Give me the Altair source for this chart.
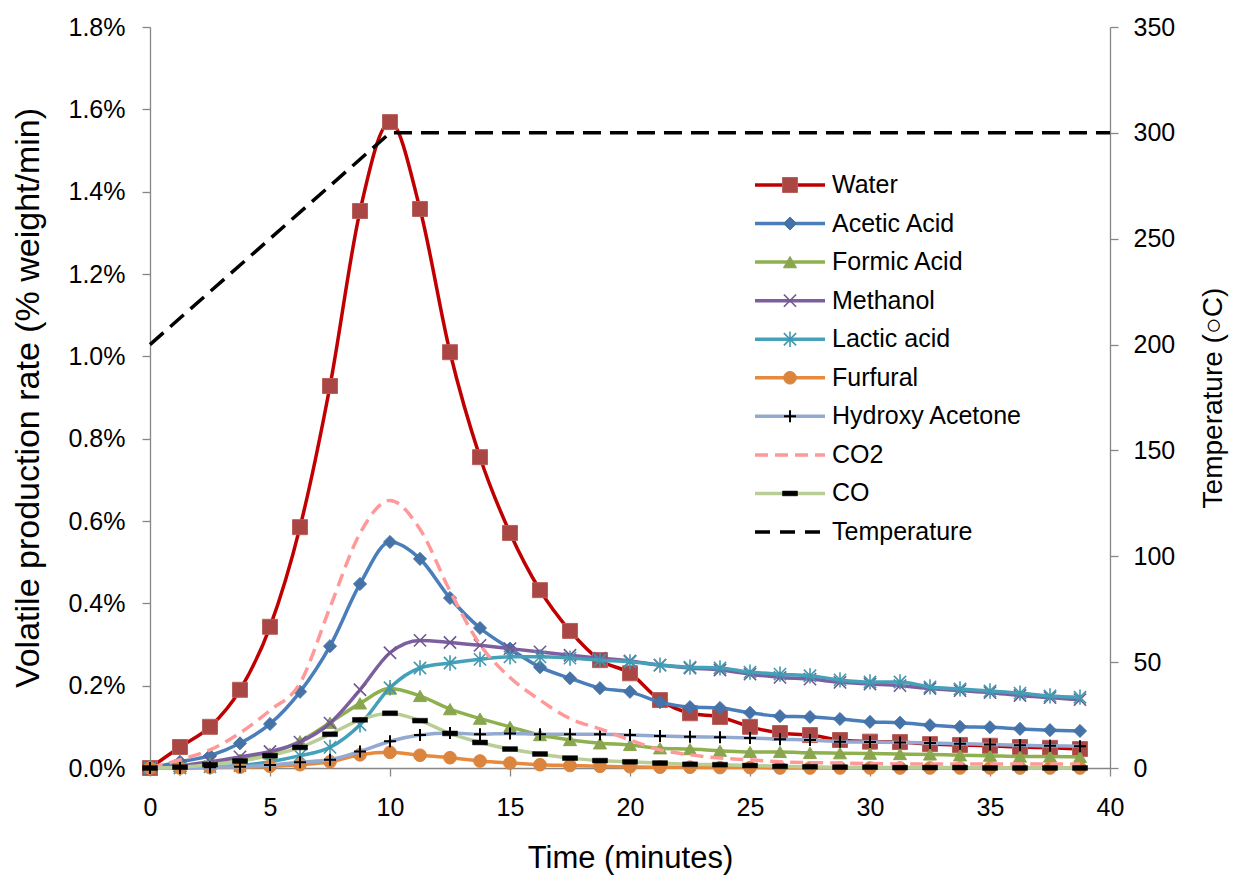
import altair as alt
import pandas as pd

# Sampling times (minutes)
time_min = [0.0, 1.25, 2.5, 3.75, 5.0, 6.25, 7.5, 8.75, 10.0, 11.25, 12.5, 13.75,
            15.0, 16.25, 17.5, 18.75, 20.0, 21.25, 22.5, 23.75, 25.0, 26.25, 27.5,
            28.75, 30.0, 31.25, 32.5, 33.75, 35.0, 36.25, 37.5, 38.75]

# Volatile production rates (% weight/min)
water = [0.0, 0.051, 0.10, 0.19, 0.343, 0.585, 0.928, 1.353, 1.569, 1.358, 1.01, 0.755,
         0.571, 0.432, 0.333, 0.262, 0.23, 0.165, 0.133, 0.124, 0.10, 0.085, 0.08,
         0.068, 0.064, 0.063, 0.058, 0.056, 0.054, 0.051, 0.049, 0.046]
acetic_acid = [0.0, 0.015, 0.03, 0.06, 0.107, 0.185, 0.296, 0.447, 0.549, 0.508, 0.413,
               0.34, 0.29, 0.245, 0.218, 0.194, 0.185, 0.16, 0.148, 0.146, 0.134, 0.126,
               0.124, 0.119, 0.112, 0.11, 0.104, 0.10, 0.099, 0.095, 0.092, 0.09]
formic_acid = [0.0, 0.004, 0.01, 0.02, 0.035, 0.065, 0.11, 0.157, 0.193, 0.175, 0.143,
               0.12, 0.10, 0.08, 0.068, 0.06, 0.056, 0.048, 0.046, 0.042, 0.039, 0.039,
               0.037, 0.036, 0.035, 0.034, 0.033, 0.031, 0.03, 0.028, 0.028, 0.027]
methanol = [0.0, 0.005, 0.015, 0.027, 0.04, 0.063, 0.109, 0.19, 0.28, 0.31, 0.305, 0.298,
            0.29, 0.282, 0.274, 0.267, 0.26, 0.25, 0.243, 0.238, 0.228, 0.22, 0.216,
            0.208, 0.204, 0.2, 0.193, 0.188, 0.183, 0.176, 0.171, 0.166]
lactic_acid = [0.0, 0.0, 0.003, 0.006, 0.015, 0.03, 0.05, 0.105, 0.195, 0.243, 0.255,
               0.264, 0.27, 0.27, 0.267, 0.262, 0.258, 0.25, 0.245, 0.243, 0.233, 0.228,
               0.224, 0.214, 0.209, 0.209, 0.197, 0.192, 0.187, 0.182, 0.175, 0.172]
furfural = [0.0, 0.0, 0.001, 0.002, 0.004, 0.008, 0.015, 0.032, 0.038, 0.031, 0.025,
            0.017, 0.012, 0.008, 0.006, 0.004, 0.003, 0.002, 0.002, 0.001, 0.001, 0.0,
            0.0, 0.0, 0.0, 0.0, 0.0, 0.0, 0.0, 0.0, 0.0, 0.0]
hydroxy_acetone = [0.0, 0.0, 0.002, 0.003, 0.007, 0.014, 0.02, 0.04, 0.065, 0.08, 0.085,
                   0.082, 0.084, 0.082, 0.082, 0.082, 0.08, 0.078, 0.076, 0.075, 0.073,
                   0.07, 0.068, 0.064, 0.063, 0.062, 0.061, 0.059, 0.057, 0.055, 0.054,
                   0.053]
co2 = [0.0, 0.02, 0.044, 0.085, 0.14, 0.206, 0.39, 0.57, 0.65, 0.58, 0.43, 0.30, 0.22,
       0.165, 0.12, 0.095, 0.068, 0.044, 0.032, 0.024, 0.02, 0.015, 0.013, 0.012, 0.011,
       0.01, 0.01, 0.01, 0.01, 0.01, 0.01, 0.01]
co = [0.0, 0.002, 0.008, 0.017, 0.03, 0.05, 0.082, 0.117, 0.133, 0.115, 0.084, 0.062,
      0.046, 0.034, 0.024, 0.018, 0.015, 0.012, 0.009, 0.008, 0.006, 0.004, 0.003, 0.002,
      0.002, 0.001, 0.001, 0.001, 0.0, 0.0, 0.0, 0.0]

# Reactor temperature (°C), secondary axis
temp_time = [0.0, 10.0, 40.0]
temp_value = [200, 300, 300]

series_names = ["Water", "Acetic Acid", "Formic Acid", "Methanol", "Lactic acid",
                "Furfural", "Hydroxy Acetone", "CO2", "CO"]
series_values = [water, acetic_acid, formic_acid, methanol, lactic_acid, furfural,
                 hydroxy_acetone, co2, co]
legend_names = series_names + ["Temperature"]

FONT = "Liberation Sans"
X_SHAPE = "M-1,-1L1,1M-1,1L1,-1"
STAR_SHAPE = "M-1,-1L1,1M-1,1L1,-1M0,-1.25L0,1.25"
PLUS_SHAPE = "M-1,0L1,0M0,-1L0,1"
BAR_SHAPE = "M-1,-0.32L1,-0.32L1,0.32L-1,0.32Z"

# line colour, dash, marker spec
styles = {
    "Water": dict(line="#C00000", dash=None,
                  marker=dict(shape="square", size=225, filled=True, fill="#AA4643",
                              stroke="#B8605C", strokeWidth=1)),
    "Acetic Acid": dict(line="#4A7EBB", dash=None,
                        marker=dict(shape="diamond", size=170, filled=True, fill="#4572A7",
                                    stroke="#4572A7", strokeWidth=1)),
    "Formic Acid": dict(line="#8EB04F", dash=None,
                        marker=dict(shape="triangle-up", size=170, filled=True,
                                    fill="#89A54E", stroke="#89A54E", strokeWidth=1)),
    "Methanol": dict(line="#7D5FA0", dash=None,
                     marker=dict(shape=X_SHAPE, size=150, filled=False, color="#71588F",
                                 strokeWidth=1.6)),
    "Lactic acid": dict(line="#45A1BA", dash=None,
                        marker=dict(shape=STAR_SHAPE, size=150, filled=False,
                                    color="#4198AF", strokeWidth=1.6)),
    "Furfural": dict(line="#E88A3E", dash=None,
                     marker=dict(shape="circle", size=160, filled=True, fill="#DB843D",
                                 stroke="#DB843D", strokeWidth=1)),
    "Hydroxy Acetone": dict(line="#93A9CF", dash=None,
                            marker=dict(shape=PLUS_SHAPE, size=144, filled=False,
                                        color="#000000", strokeWidth=2)),
    "CO2": dict(line="#FF9999", dash=[13, 7], marker=None),
    "CO": dict(line="#B9CD96", dash=None,
               marker=dict(shape=BAR_SHAPE, size=225, filled=True, fill="#000000",
                           stroke="#000000", strokeWidth=0.5)),
}

axis_common = dict(
    labelFont=FONT, labelFontSize=25, labelColor="#000000",
    titleFont=FONT, titleFontWeight="normal", titleColor="#000000",
    domainColor="#868686", tickColor="#868686", domainWidth=1.3, tickWidth=1.3,
    tickSize=8, grid=False,
)

x_scale = alt.Scale(domain=[0, 40], nice=False, zero=False)
x_axis = alt.Axis(values=[0, 5, 10, 15, 20, 25, 30, 35, 40], title="Time (minutes)",
                  labelPadding=19, labelFlush=False, titleFontSize=31, titleY=90,
                  titleBaseline="middle", **axis_common)
y_scale = alt.Scale(domain=[0, 1.8], nice=False)
y_axis = alt.Axis(values=[0, 0.2, 0.4, 0.6, 0.8, 1.0, 1.2, 1.4, 1.6, 1.8],
                  labelExpr="format(datum.value, '.1f') + '%'",
                  title="Volatile production rate (% weight/min)", orient="left",
                  labelPadding=17, titleFontSize=34, titleX=-122, titleY=370.5,
                  titleAngle=270, titleBaseline="middle", titleAnchor="middle",
                  **axis_common)
temp_scale = alt.Scale(domain=[0, 350], nice=False)
temp_axis = alt.Axis(values=[0, 50, 100, 150, 200, 250, 300, 350], orient="right",
                     title="Temperature (○C)", labelPadding=15, titleFontSize=28,
                     titleX=103, titleY=370.5, titleAngle=270, titleBaseline="middle",
                     titleAnchor="middle", **axis_common)

main_layers = []
legend_layers = []
legend_scale = alt.Scale(domain=[0, 9], range=[158, 505])

for i, (name, vals) in enumerate(zip(series_names, series_values)):
    st = styles[name]
    df = pd.DataFrame({"t": time_min, "v": vals, "series": name})
    line_kw = dict(color=st["line"], strokeWidth=3.5, interpolate="monotone")
    if st["dash"]:
        line_kw["strokeDash"] = st["dash"]
    enc = dict(x=alt.X("t:Q", scale=x_scale, axis=x_axis),
               y=alt.Y("v:Q", scale=y_scale, axis=y_axis))
    main_layers.append(alt.Chart(df).mark_line(**line_kw).encode(**enc))
    if st["marker"]:
        main_layers.append(
            alt.Chart(df).mark_point(opacity=1, **st["marker"]).encode(**enc))

    # legend entry
    ldf = pd.DataFrame({"row": [i], "name": [name]})
    ly = alt.Y("row:Q", scale=legend_scale, axis=None)
    rule_kw = dict(color=st["line"], strokeWidth=3.5)
    if st["dash"]:
        rule_kw["strokeDash"] = st["dash"]
    legend_layers.append(alt.Chart(ldf).mark_rule(**rule_kw).encode(
        x=alt.value(605), x2=alt.value(675), y=ly))
    if st["marker"]:
        legend_layers.append(alt.Chart(ldf).mark_point(opacity=1, **st["marker"]).encode(
            x=alt.value(640), y=ly))

# temperature on the secondary axis
tdf = pd.DataFrame({"t": temp_time, "temp": temp_value})
temp_layer = alt.Chart(tdf).mark_line(color="#000000", strokeWidth=3.5,
                                      strokeDash=[18, 9]).encode(
    x=alt.X("t:Q", scale=x_scale, axis=x_axis),
    y=alt.Y("temp:Q", scale=temp_scale, axis=temp_axis))

tleg = pd.DataFrame({"row": [9], "name": ["Temperature"]})
legend_layers.append(alt.Chart(tleg).mark_rule(color="#000000", strokeWidth=3.5,
                                               strokeDash=[15, 10]).encode(
    x=alt.value(605), x2=alt.value(675),
    y=alt.Y("row:Q", scale=legend_scale, axis=None)))

ltext = pd.DataFrame({"row": list(range(len(legend_names))), "name": legend_names})
legend_layers.append(alt.Chart(ltext).mark_text(
    align="left", baseline="middle", font=FONT, fontSize=25, color="#000000").encode(
    x=alt.value(682), y=alt.Y("row:Q", scale=legend_scale, axis=None), text="name:N"))

chart = alt.layer(
    alt.layer(*main_layers),
    temp_layer,
    alt.layer(*legend_layers),
).resolve_scale(y="independent").properties(
    width=960, height=741,
    padding={"left": 150, "top": 27, "right": 125, "bottom": 114},
    autosize=alt.AutoSizeParams(type="none"),
    background="#FFFFFF",
).configure_view(stroke=None)

chart.save("out.html", embed_options={"renderer": "svg", "actions": False})
